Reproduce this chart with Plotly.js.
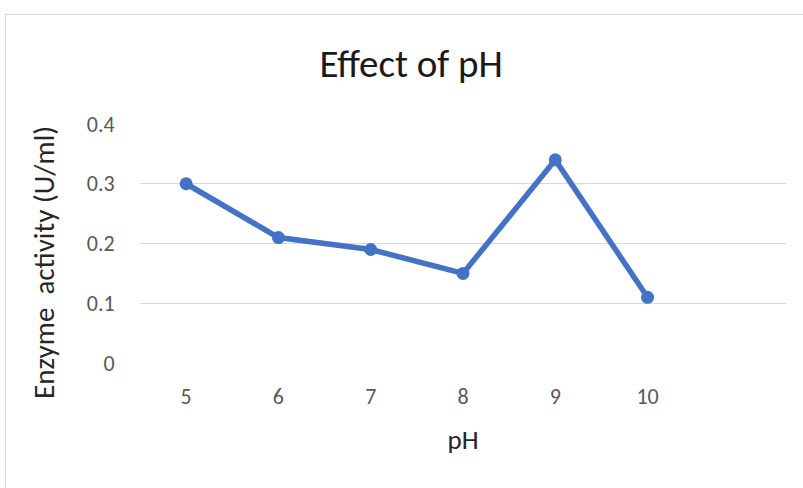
<!DOCTYPE html>
<html>
<head>
<meta charset="utf-8">
<script src="https://cdn.plot.ly/plotly-3.0.1.min.js"></script>
<style>
html,body{margin:0;padding:0;background:#fff;overflow:hidden;}
#chart{width:803px;height:488px;position:absolute;left:0;top:0;}
#frame{position:absolute;left:5px;top:14px;width:820px;height:500px;border:1px solid #d9d9d9;pointer-events:none;}
</style>
</head>
<body>
<div id="chart"></div>
<div id="frame"></div>
<script>
const phLabels = ['5', '6', '7', '8', '9', '10'];
const activity = [0.30, 0.21, 0.19, 0.15, 0.34, 0.11];
const yTicks = [0, 0.1, 0.2, 0.3, 0.4];
const yTickText = ['0', '0.1', '0.2', '0.3', '0.4'];

const FONT = "Carlito, Lato, 'Noto Sans', sans-serif";

const trace = {
  x: phLabels,
  y: activity,
  type: 'scatter',
  mode: 'lines+markers',
  line: {color: '#4472C4', width: 5.5},
  marker: {color: '#4472C4', size: 13},
  hoverinfo: 'x+y'
};

const layout = {
  width: 803, height: 488,
  margin: {l: 140, r: 17, t: 124, b: 125},
  paper_bgcolor: '#ffffff',
  plot_bgcolor: '#ffffff',
  showlegend: false,
  font: {family: FONT, color: '#595959', size: 22},
  title: {
    text: 'Effect of pH',
    font: {family: FONT, size: 39, color: '#1a1a1a'},
    x: 0.512, xref: 'container', xanchor: 'center',
    y: 1 - 63/488, yref: 'container', yanchor: 'middle'
  },
  xaxis: {
    type: 'category',
    categoryorder: 'array',
    categoryarray: phLabels,
    range: [-0.5, 6.5],
    showgrid: false,
    zeroline: false,
    showline: false,
    ticks: 'outside', ticklen: 14, tickcolor: 'rgba(0,0,0,0)',
    tickfont: {family: FONT, size: 22, color: '#595959'},
    title: {text: 'pH', font: {family: FONT, size: 27, color: '#262626'}, standoff: 20},
    fixedrange: true
  },
  yaxis: {
    range: [0, 0.4],
    tickvals: yTicks,
    ticktext: yTickText,
    showgrid: true,
    gridcolor: '#d9d9d9',
    gridwidth: 1,
    zeroline: false,
    showline: false,
    ticks: 'outside', ticklen: 20, tickcolor: 'rgba(0,0,0,0)',
    tickfont: {family: FONT, size: 22, color: '#595959'},
    fixedrange: true
  },
  annotations: [{
    text: 'Enzyme  activity (U/ml)',
    xref: 'paper', yref: 'paper',
    x: (44 - 140) / 646, y: (363 - 263) / 239,
    xanchor: 'center', yanchor: 'middle',
    textangle: -90,
    showarrow: false,
    font: {family: FONT, size: 29, color: '#262626'}
  }]
};

Plotly.newPlot('chart', [trace], layout, {displayModeBar: false, staticPlot: true});
</script>
</body>
</html>
